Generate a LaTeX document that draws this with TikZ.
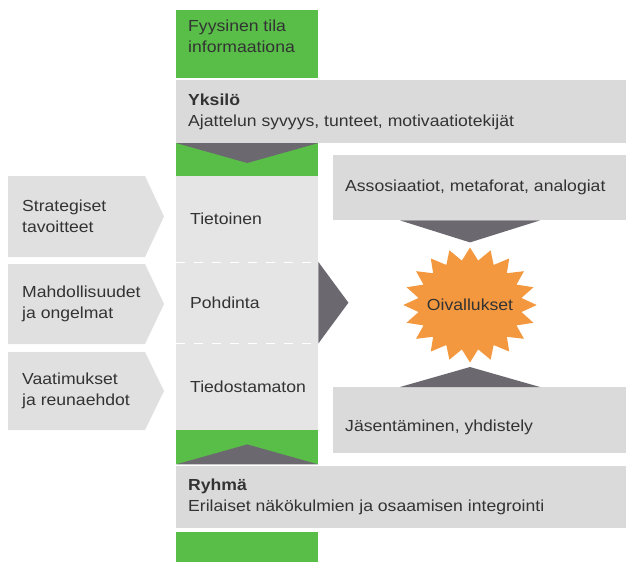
\documentclass[tikz,border=0pt]{standalone}
\usepackage{fontspec}
\setmainfont{Liberation Sans}[FakeStretch=1.1]
\usetikzlibrary{shapes,positioning,calc}

\definecolor{grn}{RGB}{88,190,72}
\definecolor{bandgray}{RGB}{218,218,218}
\definecolor{colgray}{RGB}{229,229,229}
\definecolor{sidegray}{RGB}{224,224,224}
\definecolor{tipgray}{RGB}{108,104,112}
\definecolor{orng}{RGB}{243,152,62}

\tikzset{
  box/.style 2 args={rectangle,anchor=north west,inner sep=0pt,minimum width=#1,minimum height=#2},
  txt/.style={font=\fontsize{16}{21}\selectfont,align=left,inner sep=0pt,text=black!80},
  tip/.style={fill=tipgray},
}

\begin{document}
\begin{tikzpicture}[x=1pt,y=-1pt]
\useasboundingbox[fill=white] (0,0) rectangle (626,562);

% middle column
\node[box={142}{68},fill=grn] (fyys) at (176,10) {};
\node[box={450}{63},fill=bandgray] (yks) at (176,80) {};
\node[box={142}{33},fill=grn] (gs1) at (176,143) {};
\node[box={142}{86},fill=colgray] (tiet) at (176,176) {};
\node[box={142}{81},fill=colgray] (pohd) at (176,262) {};
\node[box={142}{87},fill=colgray] (tied) at (176,343) {};
\node[box={142}{34},fill=grn] (gs2) at (176,430) {};
\node[box={450}{62},fill=bandgray] (ryh) at (176,466) {};
\node[box={142}{30},fill=grn] (gbot) at (176,532) {};

\draw[white,dashed,dash pattern=on 9pt off 9pt,thick] (pohd.north west) -- (pohd.north east);
\draw[white,dashed,dash pattern=on 9pt off 9pt,thick] (tied.north west) -- (tied.north east);

\fill[tip] (gs1.north west) -- (gs1.north east) -- ($(gs1.north)+(0,20)$) -- cycle;
\fill[tip] (gs2.south west) -- (gs2.south east) -- ($(gs2.south)+(0,-20)$) -- cycle;

\node[txt,below right=10pt and 12pt of fyys.north west] (fyyst) {Fyysinen tila\\informaationa};
\node[txt,right=12pt of yks.west] (yekst) {\textbf{Yksilö}\\Ajattelun syvyys, tunteet, motivaatiotekijät};
\node[txt,right=14pt of tiet.west] (tiett) {Tietoinen};
\node[txt,right=14pt of pohd.west] (pohdt) {Pohdinta};
\node[txt,right=14pt of tied.west] (tiedt) {Tiedostamaton};
\node[txt,right=12pt of ryh.west] (ryht) {\textbf{Ryhmä}\\Erilaiset näkökulmien ja osaamisen integrointi};

% left arrows
\foreach \y/\h/\name/\lbl in {176/81/strat/{Strategiset\\tavoitteet},
                              264/80/mahd/{Mahdollisuudet\\ja ongelmat},
                              352/78/vaat/{Vaatimukset\\ja reunaehdot}} {
  \fill[sidegray] (8,\y) -- (145,\y) -- (164,\y+\h/2) -- (145,\y+\h) -- (8,\y+\h) -- cycle;
  \node[txt,anchor=west] (\name) at (22,\y+\h/2) {\lbl};
}

% right side
\node[box={293}{65},fill=bandgray] (assoc) at (333,155) {};
\node[box={293}{66},fill=bandgray] (jas) at (333,387) {};
\node[txt,right=12pt of assoc.west] (assoct) {Assosiaatiot, metaforat, analogiat};
\node[txt,anchor=west] (jast) at (345,427) {Jäsentäminen, yhdistely};

\begin{scope}[shift={(470,305)},xscale=1.16]
  \node[star,star points=20,star point ratio=1.28,minimum size=115,inner sep=0pt,fill=orng,transform shape] (oiv) at (0,0) {};
\end{scope}
\node[txt] (oivt) at (oiv) {Oivallukset};

\fill[tip] (pohd.north east) -- (pohd.south east) -- ($(pohd.east)+(30,0)$) -- cycle;
\fill[tip] ($(assoc.south -| oiv)+(-70,0)$) -- ($(assoc.south -| oiv)+(70,0)$) -- ($(assoc.south -| oiv)+(0,22)$) -- cycle;
\fill[tip] ($(jas.north -| oiv)+(-70,0)$) -- ($(jas.north -| oiv)+(70,0)$) -- ($(jas.north -| oiv)+(0,-20)$) -- cycle;
\end{tikzpicture}
\end{document}
